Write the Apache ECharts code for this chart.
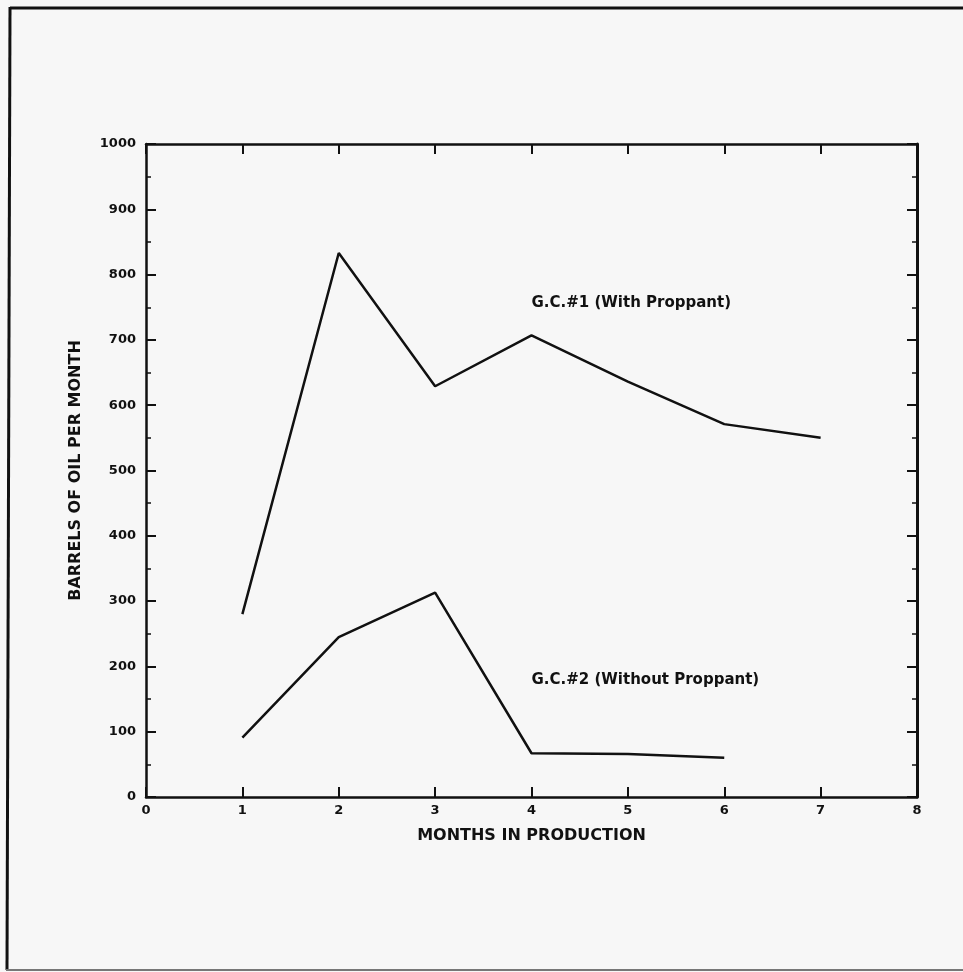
<!DOCTYPE html>
<html>
<head>
<meta charset="utf-8">
<script src="https://cdn.jsdelivr.net/npm/echarts@6/dist/echarts.min.js"></script>
<style>
html,body{margin:0;padding:0;background:#f7f7f7;}
#main{width:963px;height:972px;}
</style>
</head>
<body>
<div id="main"></div>
<script>
var months = [1, 2, 3, 4, 5, 6, 7];
var gc1Values = [280, 833, 629, 707, 636, 571, 550];
var gc2Values = [91, 245, 313, 67, 66, 60];
var gc1Label = 'G.C.#1 (With Proppant)';
var gc2Label = 'G.C.#2 (Without Proppant)';
var gc1LabelAt = [4, 757];
var gc2LabelAt = [4, 179];
var xTitle = 'MONTHS IN PRODUCTION';
var yTitle = 'BARRELS OF OIL PER MONTH';

var FONT = 'DejaVu Sans';
var ink = '#111';

function pairs(xs, ys) {
  return ys.map(function (v, i) { return [xs[i], v]; });
}

var chart = echarts.init(document.getElementById('main'), null, {renderer: 'canvas'});

var baseTick = {show: true, inside: true, length: 10, lineStyle: {color: ink, width: 2}};
var option = {
  backgroundColor: '#f7f7f7',
  animation: false,
  grid: {left: 146, right: 46, top: 144, bottom: 175, containLabel: false},
  xAxis: [
    {
      type: 'value', min: 0, max: 8, interval: 1, position: 'bottom',
      name: xTitle, nameLocation: 'middle', nameGap: 31,
      nameTextStyle: {fontFamily: FONT, fontWeight: 'bold', fontSize: 16, color: ink},
      axisLine: {show: true, onZero: false, lineStyle: {color: ink, width: 2.5}},
      axisTick: baseTick,
      axisLabel: {fontFamily: FONT, fontWeight: 'bold', fontSize: 13, color: ink, margin: 7},
      splitLine: {show: false}
    },
    {
      type: 'value', min: 0, max: 8, interval: 1, position: 'top',
      axisLine: {show: true, onZero: false, lineStyle: {color: ink, width: 2.5}},
      axisTick: baseTick,
      axisLabel: {show: false},
      splitLine: {show: false}
    }
  ],
  yAxis: [
    {
      type: 'value', min: 0, max: 1000, interval: 100, position: 'left',
      name: yTitle, nameLocation: 'middle', nameGap: 62,
      nameTextStyle: {fontFamily: FONT, fontWeight: 'bold', fontSize: 16, color: ink},
      axisLine: {show: true, onZero: false, lineStyle: {color: ink, width: 2.5}},
      axisTick: baseTick,
      minorTick: {show: true, splitNumber: 2, length: 5, lineStyle: {color: ink, width: 1.5}},
      axisLabel: {fontFamily: FONT, fontWeight: 'bold', fontSize: 13, color: ink, margin: 10,
        formatter: function (v) { return String(v); }},
      splitLine: {show: false}, minorSplitLine: {show: false}
    },
    {
      type: 'value', min: 0, max: 1000, interval: 100, position: 'right',
      axisLine: {show: true, onZero: false, lineStyle: {color: ink, width: 3}},
      axisTick: baseTick,
      minorTick: {show: true, splitNumber: 2, length: 5, lineStyle: {color: ink, width: 1.5}},
      axisLabel: {show: false},
      splitLine: {show: false}, minorSplitLine: {show: false}
    }
  ],
  series: [
    {
      name: gc1Label, type: 'line', xAxisIndex: 0, yAxisIndex: 0,
      data: pairs(months, gc1Values), showSymbol: false, symbol: 'none',
      lineStyle: {color: ink, width: 2.5},
      markPoint: {
        symbol: 'circle', symbolSize: 0,
        label: {show: true, position: 'right', distance: 0, formatter: gc1Label,
          fontFamily: FONT, fontWeight: 'bold', fontSize: 15, color: ink},
        data: [{coord: gc1LabelAt}]
      }
    },
    {
      name: gc2Label, type: 'line', xAxisIndex: 0, yAxisIndex: 0,
      data: pairs(months, gc2Values), showSymbol: false, symbol: 'none',
      lineStyle: {color: ink, width: 2.5},
      markPoint: {
        symbol: 'circle', symbolSize: 0,
        label: {show: true, position: 'right', distance: 0, formatter: gc2Label,
          fontFamily: FONT, fontWeight: 'bold', fontSize: 15, color: ink},
        data: [{coord: gc2LabelAt}]
      }
    }
  ],
  graphic: [
    {type: 'line', shape: {x1: 10, y1: 8, x2: 963, y2: 8}, style: {stroke: '#111', lineWidth: 3}},
    {type: 'line', shape: {x1: 10, y1: 7, x2: 7, y2: 970}, style: {stroke: '#111', lineWidth: 3}},
    {type: 'line', shape: {x1: 6, y1: 970, x2: 963, y2: 970}, style: {stroke: '#777', lineWidth: 2}}
  ]
};
chart.setOption(option);
</script>
</body>
</html>
